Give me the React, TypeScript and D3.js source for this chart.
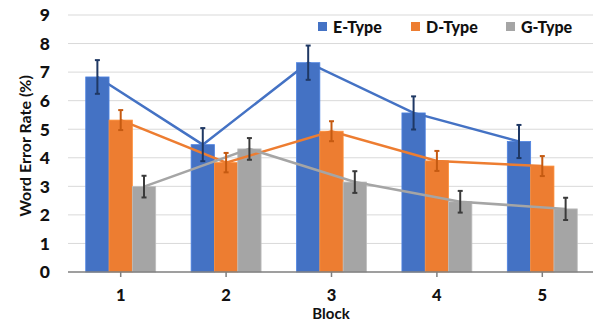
import * as d3 from "d3";

// data
const blocks = ["1", "2", "3", "4", "5"];
const seriesNames = ["E-Type", "D-Type", "G-Type"];
const eType = [6.83, 4.46, 7.33, 5.57, 4.57];
const dType = [5.32, 3.83, 4.93, 3.89, 3.71];
const gType = [2.99, 4.31, 3.15, 2.46, 2.21];
const eErr = [0.59, 0.58, 0.6, 0.58, 0.58];
const dErr = [0.35, 0.34, 0.35, 0.35, 0.35];
const gErr = [0.38, 0.38, 0.38, 0.38, 0.39];
const yTicks = [0, 1, 2, 3, 4, 5, 6, 7, 8, 9];

const colors = ["#4472C4", "#ED7D31", "#A5A5A5"];
const errColors = ["#1F3864", "#C55A11", "#3A3A3A"];
const font = "Lato, 'Open Sans', sans-serif";

const App = () => {
  const width = 593;
  const height = 322;
  const margin = { top: 15, right: -2, bottom: 50, left: 68 };

  const values = [eType, dType, gType];
  const errors = [eErr, dErr, gErr];

  const x = d3
    .scaleBand()
    .domain(blocks)
    .range([margin.left, width - margin.right])
    .padding(0);

  const xs = d3
    .scaleBand()
    .domain(seriesNames)
    .range([0, x.bandwidth()])
    .paddingInner(0)
    .paddingOuter(0.76);

  const y = d3
    .scaleLinear()
    .domain([0, 9])
    .range([height - margin.bottom, margin.top]);

  const barCenter = (b, s) => x(b) + xs(s) + xs.bandwidth() / 2;

  const line = d3
    .line()
    .x((d) => d[0])
    .y((d) => d[1]);

  return (
    <svg
      width={width}
      height={height}
      style={{ position: "absolute", left: 0, top: 0, background: "#fff" }}
    >
      {/* gridlines */}
      {yTicks.slice(1).map((t) => (
        <line
          key={t}
          x1={margin.left}
          x2={width}
          y1={y(t)}
          y2={y(t)}
          stroke="#D9D9D9"
          strokeWidth={1}
        />
      ))}

      {/* y tick labels */}
      {yTicks.map((t) => (
        <text
          key={t}
          x={50}
          y={y(t)}
          dy="0.36em"
          textAnchor="end"
          fontFamily={font}
          fontWeight="900"
          fontSize={17.5}
          fill="#111"
        >
          {t}
        </text>
      ))}

      {/* bars */}
      {seriesNames.map((s, si) =>
        blocks.map((b, i) => (
          <rect
            key={s + b}
            x={x(b) + xs(s)}
            y={y(values[si][i])}
            width={xs.bandwidth()}
            height={y(0) - y(values[si][i])}
            fill={colors[si]}
            stroke={d3.color(colors[si]).brighter(0.4).toString()}
            strokeWidth={0.8}
          />
        ))
      )}

      {/* lines joining bar tops */}
      {seriesNames.map((s, si) => (
        <path
          key={s}
          d={line(blocks.map((b, i) => [barCenter(b, s), y(values[si][i])]))}
          fill="none"
          stroke={colors[si]}
          strokeWidth={2.5}
        />
      ))}

      {/* error bars */}
      {seriesNames.map((s, si) =>
        blocks.map((b, i) => {
          const cx = barCenter(b, s);
          const hi = y(values[si][i] + errors[si][i]);
          const lo = y(values[si][i] - errors[si][i]);
          return (
            <g key={s + b} stroke={errColors[si]} strokeWidth={2}>
              <line x1={cx} x2={cx} y1={hi} y2={lo} />
              <line x1={cx - 2.5} x2={cx + 2.5} y1={hi} y2={hi} />
              <line x1={cx - 2.5} x2={cx + 2.5} y1={lo} y2={lo} />
            </g>
          );
        })
      )}

      {/* x axis */}
      <line
        x1={margin.left}
        x2={width}
        y1={y(0)}
        y2={y(0)}
        stroke="#7F7F7F"
        strokeWidth={1.5}
      />
      {blocks.map((b) => (
        <g key={b}>
          <line
            x1={x(b) + x.bandwidth() / 2}
            x2={x(b) + x.bandwidth() / 2}
            y1={y(0)}
            y2={y(0) + 5}
            stroke="#7F7F7F"
            strokeWidth={1.5}
          />
          <text
            x={x(b) + x.bandwidth() / 2}
            y={300.5}
            textAnchor="middle"
            fontFamily={font}
            fontWeight="900"
            fontSize={16.5}
            fill="#111"
          >
            {b}
          </text>
        </g>
      ))}

      {/* axis titles */}
      <text
        x={331}
        y={318.5}
        textAnchor="middle"
        fontFamily={font}
        fontWeight="bold"
        fontSize={15}
        fill="#111"
      >
        Block
      </text>
      <text
        transform="translate(25,146) rotate(-90)"
        dy="0.36em"
        textAnchor="middle"
        fontFamily={font}
        fontWeight="bold"
        fontSize={16}
        fill="#111"
      >
        Word Error Rate (%)
      </text>

      {/* legend */}
      {seriesNames.map((s, si) => {
        const lx = [318, 411, 506][si];
        return (
          <g key={s}>
            <rect x={lx} y={22} width={9} height={9} fill={colors[si]} />
            <text
              x={lx + 15}
              y={27}
              dy="0.36em"
              fontFamily={font}
              fontWeight="900"
              fontSize={16}
              fill="#111"
            >
              {s}
            </text>
          </g>
        );
      })}
    </svg>
  );
};

export default App;
